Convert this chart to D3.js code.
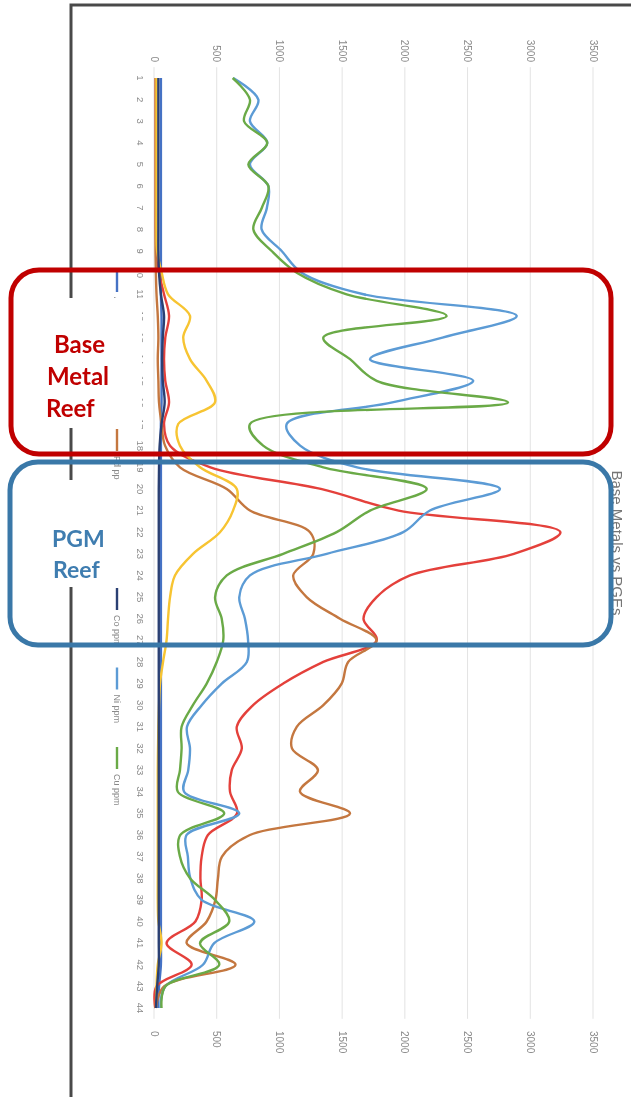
<!DOCTYPE html>
<html>
<head>
<meta charset="utf-8">
<script src="https://cdn.jsdelivr.net/npm/d3@7"></script>
<style>
  html, body { margin: 0; padding: 0; background: #fff; }
  svg { display: block; }
</style>
</head>
<body>
<svg id="chart" width="631" height="1097"></svg>
<script>
// Sample positions down the borehole (category axis)
const categories = [1,2,3,4,5,6,7,8,9,10,11,12,13,14,15,16,17,18,19,20,21,22,
                    23,24,25,26,27,28,29,30,31,32,33,34,35,36,37,38,39,40,41,42,43,44];

// Value axis ticks
const valueTicks = [0, 500, 1000, 1500, 2000, 2500, 3000, 3500];

// Series values, one per sample
const auPpb = [55,55,55,55,55,55,55,55,55,55,55,60,60,60,60,60,55,55,55,55,55,55,
               55,55,55,55,55,55,55,55,55,55,55,55,55,55,55,55,55,55,55,55,40,30];
const ptPpb = [15,15,15,15,15,15,15,15,20,40,80,120,90,80,90,120,80,128,450,1330,1950,3240,
               2870,2041,1775,1670,1775,1350,1030,790,660,700,620,606,662,430,380,370,380,330,100,300,20,10];
const pdPpb = [12,12,12,12,12,12,12,12,12,15,20,30,35,30,35,40,60,88,207,580,765,1244,
               1270,1110,1217,1483,1775,1548,1496,1350,1138,1100,1307,1164,1563,765,542,510,490,420,260,650,80,15];
const sPpm  = [20,20,20,20,20,20,20,20,25,61,112,287,233,287,420,486,193,207,367,660,630,526,
               311,167,128,112,100,72,48,40,35,32,30,30,30,30,30,30,30,35,60,30,20,15];
const coPpm = [35,35,35,35,35,35,35,35,35,40,55,80,70,65,70,85,60,45,40,38,38,38,
               38,38,38,38,38,38,38,38,38,38,38,38,38,38,38,38,38,38,38,38,25,15];
const niPpm = [632,832,765,903,765,912,900,858,1018,1177,1670,2892,2300,1722,2545,1900,1058,1165,1620,2758,2200,1987,
               1377,765,680,725,750,740,540,380,263,287,273,240,680,260,270,290,380,800,480,390,90,50];
const cuPpm = [627,765,718,903,752,912,860,792,938,1138,1536,2333,1350,1563,1775,2823,765,870,1350,2174,1722,1456,
               1030,580,487,540,552,500,420,310,220,220,207,190,560,210,207,287,486,600,367,520,90,60];

const seriesNames  = ["Au ppb", "Pt ppb", "Pd ppb", "S ppm", "Co ppm", "Ni ppm", "Cu ppm"];
const seriesValues = [auPpb, ptPpb, pdPpb, sPpm, coPpm, niPpm, cuPpm];
const seriesColors = ["#4472C4", "#E4413B", "#C4773F", "#F7C431", "#2A3F73", "#5B9BD5", "#6BAA47"];

const svg = d3.select("#chart");

// soft focus for the exported chart image
const defs = svg.append("defs");
defs.append("filter").attr("id", "soft")
  .attr("x", "-5%").attr("y", "-5%").attr("width", "110%").attr("height", "110%")
  .append("feGaussianBlur").attr("stdDeviation", 0.6);

const chart = svg.append("g").attr("filter", "url(#soft)");

// Chart is laid on its side: samples run down the page, values run across.
const x = d3.scaleLinear().domain([0, 3500]).range([154, 593]);
const y = d3.scalePoint().domain(categories).range([78, 1008]);
const half = y.step() / 2;
const plotTop = y(categories[0]) - half;
const plotBottom = y(categories[categories.length - 1]) + half;

const axisFont = "Liberation Sans, Arial, sans-serif";
const axisGrey = "#8a8a8a";

// gridlines
chart.append("g").selectAll("line").data(valueTicks).join("line")
  .attr("x1", d => x(d)).attr("x2", d => x(d))
  .attr("y1", plotTop).attr("y2", plotBottom)
  .attr("stroke", "#e3e3e3").attr("stroke-width", 1);

// primary value axis labels (top)
chart.append("g").selectAll("text").data(valueTicks).join("text")
  .attr("transform", d => `translate(${x(d)},62) rotate(90)`)
  .attr("text-anchor", "end").attr("dy", "0.35em")
  .attr("font-family", axisFont).attr("font-size", 10)
  .attr("fill", axisGrey).text(d => d);

// secondary value axis labels (bottom)
chart.append("g").selectAll("text").data(valueTicks).join("text")
  .attr("transform", d => `translate(${x(d)},1031) rotate(90)`)
  .attr("text-anchor", "start").attr("dy", "0.35em")
  .attr("font-family", axisFont).attr("font-size", 10)
  .attr("fill", axisGrey).text(d => d);

// category labels
chart.append("g").selectAll("text").data(categories).join("text")
  .attr("transform", d => `translate(137,${y(d)}) rotate(90)`)
  .attr("text-anchor", "middle")
  .attr("font-family", axisFont).attr("font-size", 9.5)
  .attr("fill", axisGrey).text(d => d);

// series
const line = d3.line()
  .x(d => x(d.v)).y(d => y(d.c))
  .curve(d3.curveCatmullRom.alpha(0.5));

chart.append("g").selectAll("path").data(seriesValues).join("path")
  .attr("d", vals => line(vals.map((v, i) => ({ c: categories[i], v }))))
  .attr("fill", "none")
  .attr("stroke", (d, i) => seriesColors[i])
  .attr("stroke-width", 2.4)
  .attr("stroke-linejoin", "round");

// legend, running down the left side with evenly spaced entries
const legend = chart.append("g");
const legendStart = 270, legendStep = 79.5;
seriesNames.forEach((name, i) => {
  const y0 = legendStart + i * legendStep;
  legend.append("line")
    .attr("x1", 117).attr("x2", 117).attr("y1", y0).attr("y2", y0 + 22)
    .attr("stroke", seriesColors[i]).attr("stroke-width", 2.4);
  legend.append("text")
    .attr("transform", `translate(117,${y0 + 27}) rotate(90)`)
    .attr("dy", "0.35em")
    .attr("font-family", axisFont).attr("font-size", 9)
    .attr("fill", axisGrey).text(name);
});

// title
chart.append("text")
  .attr("transform", "translate(612,543) rotate(90)")
  .attr("text-anchor", "middle")
  .attr("font-family", axisFont).attr("font-size", 15)
  .attr("fill", "#767676").text("Base Metals vs PGEs");

// chart frame
chart.append("path")
  .attr("d", "M71,1097 V5 H631")
  .attr("fill", "none").attr("stroke", "#4a4a4a").attr("stroke-width", 3);

// reef annotations
const ann = svg.append("g");
ann.append("rect")
  .attr("x", 11).attr("y", 270).attr("width", 600).attr("height", 184).attr("rx", 28)
  .attr("fill", "none").attr("stroke", "#C00000").attr("stroke-width", 5);
ann.append("rect")
  .attr("x", 10).attr("y", 462).attr("width", 601).attr("height", 183).attr("rx", 28)
  .attr("fill", "none").attr("stroke", "#3A78A8").attr("stroke-width", 5);

ann.append("rect").attr("x", 42).attr("y", 298).attr("width", 100).attr("height", 130).attr("fill", "#fff");
ann.append("rect").attr("x", 52).attr("y", 480).attr("width", 70).attr("height", 107).attr("fill", "#fff");

const reefFont = "Lato, 'Open Sans', sans-serif";
[["Base", 54, 353], ["Metal", 47, 385], ["Reef", 46, 417]].forEach(([t, tx, ty]) => {
  ann.append("text").attr("x", tx).attr("y", ty)
    .attr("font-family", reefFont).attr("font-weight", 700).attr("font-size", 24)
    .attr("fill", "#C00000").text(t);
});
[["PGM", 52, 547], ["Reef", 53, 578]].forEach(([t, tx, ty]) => {
  ann.append("text").attr("x", tx).attr("y", ty)
    .attr("font-family", reefFont).attr("font-weight", 700).attr("font-size", 23)
    .attr("fill", "#3F7DB0").text(t);
});
</script>
</body>
</html>
